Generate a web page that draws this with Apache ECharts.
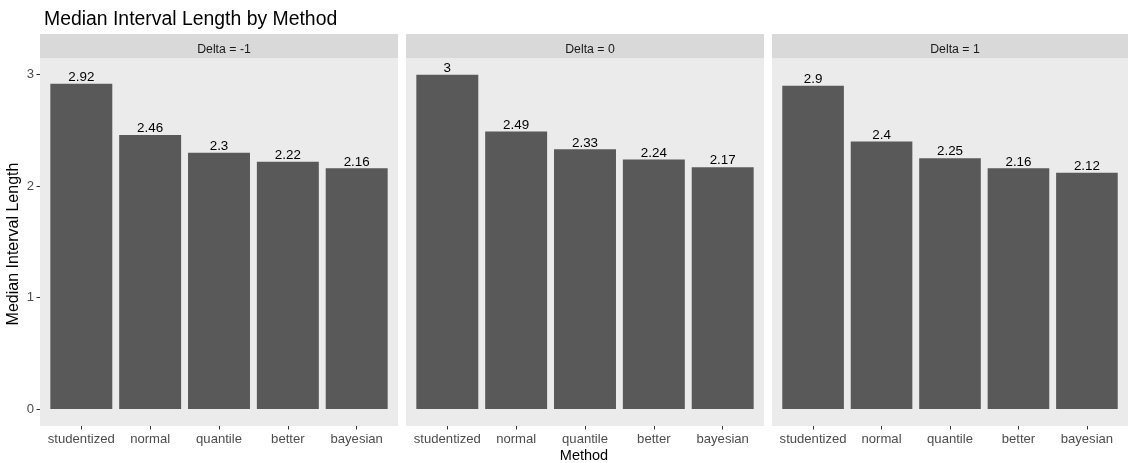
<!DOCTYPE html>
<html><head><meta charset="utf-8">
<script src="https://cdn.jsdelivr.net/npm/echarts@6/dist/echarts.min.js"></script>
<style>html,body{margin:0;padding:0;background:#fff}#c{width:1128px;height:463px}</style>
</head><body><div id="c"></div>
<script>
const methods = ['studentized','normal','quantile','better','bayesian'];
const facetLabels = ['Delta = -1','Delta = 0','Delta = 1'];
const deltaNeg1 = [2.92, 2.46, 2.3, 2.22, 2.16];
const delta0 = [3, 2.49, 2.33, 2.24, 2.17];
const delta1 = [2.9, 2.4, 2.25, 2.16, 2.12];
const yTicks = [0, 1, 2, 3];

const seriesData = [deltaNeg1, delta0, delta1];
const FONT = 'Liberation Sans, Arial, sans-serif';
const panelLeft = [40, 406, 772];
const panelW = [358, 358, 356];
const panelTop = 58, zeroY = 409, panelBottom = 426, stripTop = 34;
const yMax = 3.15;
const tickMax = yTicks[yTicks.length - 1];

const grids = [], xAxes = [], yAxes = [], series = [], graphics = [], titles = [];
// bar grids (0..2)
for (let p = 0; p < 3; p++) {
  const inset = 0.1 * panelW[p] / 5.2;
  graphics.push({type:'rect', silent:true, z:-10, shape:{x:panelLeft[p], y:panelTop, width:panelW[p], height:panelBottom-panelTop}, style:{fill:'#ebebeb'}});
  graphics.push({type:'rect', silent:true, z:-10, shape:{x:panelLeft[p], y:stripTop, width:panelW[p], height:panelTop-stripTop}, style:{fill:'#d9d9d9'}});
  titles.push({text:facetLabels[p], left:panelLeft[p]+panelW[p]/2, top:stripTop+5, textAlign:'center',
    textStyle:{fontFamily:FONT, fontSize:12.3, fontWeight:'normal', color:'#1a1a1a'}});
  grids.push({left:panelLeft[p]+inset, width:panelW[p]-2*inset, top:panelTop, height:zeroY-panelTop});
  xAxes.push({type:'category', gridIndex:p, data:methods, show:false});
  yAxes.push({type:'value', gridIndex:p, min:0, max:yMax, show:false, splitLine:{show:false}});
  series.push({type:'bar', xAxisIndex:p, yAxisIndex:p, data:seriesData[p], barCategoryGap:'10%',
    itemStyle:{color:'#595959'}, silent:true,
    label:{show:true, position:'top', distance:0, fontFamily:FONT, fontSize:13.4, color:'#000', formatter: d => String(d.value)}});
}
// x-axis grids (3..5), sitting at the panel bottom
for (let p = 0; p < 3; p++) {
  const inset = 0.1 * panelW[p] / 5.2;
  grids.push({left:panelLeft[p]+inset, width:panelW[p]-2*inset, top:panelBottom-1, height:1});
  xAxes.push({type:'category', gridIndex:3+p, data:methods, position:'bottom',
    axisLine:{show:false}, axisTick:{show:true, alignWithLabel:true, length:3.5, lineStyle:{color:'#333'}},
    axisLabel:{fontFamily:FONT, fontSize:13.1, color:'#4d4d4d', margin:7, interval:0},
    splitLine:{show:false}});
  yAxes.push({type:'value', gridIndex:3+p, show:false, splitLine:{show:false}});
}
// y-axis grid (6) at the left edge of the first panel, spanning 0..tickMax
const yGridHeight = (zeroY - panelTop) * tickMax / yMax;
grids.push({left:panelLeft[0], width:1, top:zeroY - yGridHeight, height:yGridHeight});
xAxes.push({type:'value', gridIndex:6, show:false, splitLine:{show:false}});
yAxes.push({type:'value', gridIndex:6, min:0, max:tickMax, interval:1, position:'left',
  axisLine:{show:false}, axisTick:{show:true, length:3.5, lineStyle:{color:'#333'}},
  axisLabel:{fontFamily:FONT, fontSize:13.1, color:'#4d4d4d', margin:6,
    formatter: v => yTicks.includes(v) ? String(v) : ''},
  splitLine:{show:false}});

titles.unshift({text:'Median Interval Length by Method', left:39, top:5,
  textStyle:{fontFamily:FONT, fontSize:19.4, fontWeight:'normal', color:'#000'}});
graphics.push({type:'text', x:(panelLeft[0]+panelLeft[2]+panelW[2])/2, y:456,
  style:{text:'Method', fontFamily:FONT, fontSize:14.5, fill:'#000', textAlign:'center', textVerticalAlign:'middle'}});
graphics.push({type:'text', x:14, y:(panelTop+panelBottom)/2 + 2, rotation:Math.PI/2,
  style:{text:'Median Interval Length', fontFamily:FONT, fontSize:16, fill:'#000', textAlign:'center', textVerticalAlign:'middle'}});

const chart = echarts.init(document.getElementById('c'), null, {renderer:'canvas'});
chart.setOption({animation:false, backgroundColor:'#fff', title:titles, grid:grids, xAxis:xAxes, yAxis:yAxes, series:series, graphic:graphics});
</script></body></html>
